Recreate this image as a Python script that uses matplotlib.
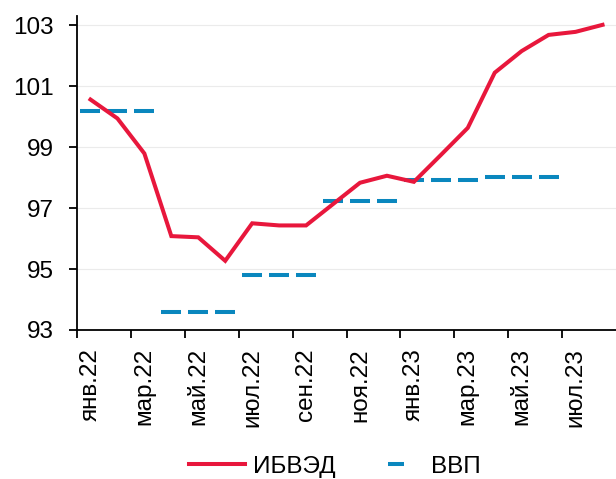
import numpy as np
import matplotlib
matplotlib.use("Agg")
import matplotlib.pyplot as plt
from matplotlib.lines import Line2D

plt.rcParams['font.family'] = ['Liberation Sans', 'DejaVu Sans']

# Monthly index, Jan 2022 .. Aug 2023
months = ["янв.22", "фев.22", "мар.22", "апр.22", "май.22", "июн.22",
          "июл.22", "авг.22", "сен.22", "окт.22", "ноя.22", "дек.22",
          "янв.23", "фев.23", "мар.23", "апр.23", "май.23", "июн.23",
          "июл.23", "авг.23"]
ibved = [100.56, 99.94, 98.79, 96.08, 96.04, 95.27, 96.50, 96.43, 96.43,
         97.13, 97.83, 98.06, 97.86, 98.74, 99.63, 101.44, 102.15, 102.68,
         102.78, 103.01]
# Quarterly GDP, shown against each month of the quarter
gdp_quarterly = [100.19, 93.59, 94.81, 97.23, 97.92, 98.03]

gdp_monthly = [np.nan] * len(months)
for q, v in enumerate(gdp_quarterly):
    for m in range(3):
        gdp_monthly[q * 3 + m] = v

red = "#E8173C"
blue = "#0A87BE"

fig = plt.figure(figsize=(6.16, 4.79), dpi=100)
ax = fig.add_axes([77 / 616, 149 / 479, 1 - 77 / 616, (479 - 16 - 149) / 479])

x = np.arange(len(months))
ax.plot(x, ibved, color=red, lw=2.9, solid_joinstyle='miter', zorder=3)
ax.plot(x, gdp_monthly, linestyle='none', marker='_', markersize=14,
        markeredgewidth=2.9, color=blue, zorder=2)

ax.set_xlim(-0.5, len(months) - 0.5)
ax.set_ylim(93, 103.3)
ax.set_yticks([93, 95, 97, 99, 101, 103])
ax.yaxis.grid(True, color="#EBEBEB", lw=0.8)
ax.set_axisbelow(True)

# category boundaries carry the ticks, labels sit at category centres
ax.set_xticks(np.arange(-0.5, len(months) - 1, 2))
ax.set_xticklabels([])
ax.set_xticks(np.arange(0, len(months), 2), minor=True)
ax.set_xticklabels(months[::2], minor=True, rotation=90, va='top', ha='center')
ax.tick_params(axis='x', which='major', length=5.5, width=1.3, direction='out')
ax.tick_params(axis='x', which='minor', length=0, pad=13, labelsize=17.5)
ax.tick_params(axis='y', length=5.5, width=1.3, pad=11, labelsize=17.5)

for s in ['top', 'right']:
    ax.spines[s].set_visible(False)
for s in ['left', 'bottom']:
    ax.spines[s].set_linewidth(1.3)

handles = [
    Line2D([], [], color=red, lw=2.9),
    Line2D([], [], linestyle='none', marker='_', markersize=12,
           markeredgewidth=2.9, color=blue),
]
fig.legend(handles, ["ИБВЭД", "ВВП"], loc='center', bbox_to_anchor=(0.544, 0.026),
           ncol=2, frameon=False, fontsize=17.5, handlelength=2.3,
           handletextpad=0.3, columnspacing=1.35, borderpad=0, numpoints=1)

fig.savefig("out.png", dpi=100)
